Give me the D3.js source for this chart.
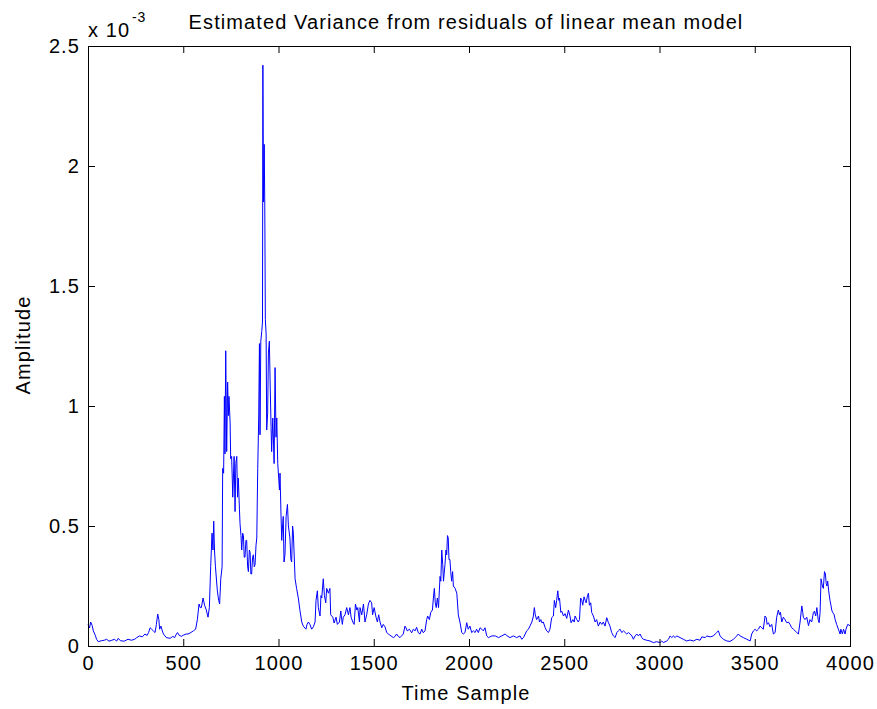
<!DOCTYPE html>
<html>
<head>
<meta charset="utf-8">
<script src="https://cdn.jsdelivr.net/npm/d3@7"></script>
<style>
  html, body { margin: 0; padding: 0; background: #ffffff; }
  svg { display: block; }
  text { font-family: "Liberation Sans", Arial, sans-serif; fill: #000; }
</style>
</head>
<body>
<script>
// ---------- DATA ----------
const chartTitle = "Estimated Variance from residuals of linear mean model";
const xLabel = "Time Sample";
const yLabel = "Amplitude";
const xTicks = [0, 500, 1000, 1500, 2000, 2500, 3000, 3500, 4000];
const yTicks = [0, 0.5, 1, 1.5, 2, 2.5];          // in units of 1e-3
const yTickLabels = ["0", "0.5", "1", "1.5", "2", "2.5"];
const yExponent = "-3";

// sample index (time sample)
const sampleIdx = [
0,8,14,22,28,38,45,54,70,85,98,110,125,140,150,159,170,190,210,228,245,256,270,285,299,310,318,326,334,343,352,359,366,372,376,383,390,396,411,431,445,455,464,470,478,490,500,515,525,540,553,565,574,583,589,595,604,612,621,630,637,644,651,656,660,664,669,679,686,691,697,704,707,712,716,719,723,728,733,737,740,746,749,754,760,767,772,776,781,785,789,795,798,803,807,812,816,820,824,829,833,838,842,847,851,855,859,864,868,873,877,882,886,891,896,900,903,907,912,916,918,921,925,928,931,935,938,943,947,952,956,961,964,970,977,982,987,991,996,1001,1005,1008,1013,1017,1022,1025,1029,1034,1040,1047,1052,1060,1065,1069,1074,1078,1087,1095,1104,1113,1122,1130,1144,1150,1157,1165,1174,1183,1192,1197,1204,1209,1218,1223,1227,1235,1241,1248,1253,1262,1270,1274,1285,1292,1302,1309,1320,1327,1335,1340,1349,1358,1367,1375,1381,1390,1397,1404,1411,1416,1425,1428,1437,1446,1454,1463,1472,1480,1489,1494,1502,1512,1519,1526,1533,1542,1550,1559,1568,1577,1585,1603,1612,1620,1629,1638,1655,1664,1670,1676,1687,1699,1708,1717,1725,1734,1743,1752,1760,1769,1778,1783,1792,1799,1808,1813,1818,1823,1828,1834,1840,1848,1852,1857,1862,1866,1874,1879,1883,1887,1891,1895,1900,1904,1909,1914,1918,1927,1936,1944,1953,1962,1970,1979,1988,1996,2005,2014,2023,2032,2040,2049,2058,2067,2075,2084,2093,2102,2120,2138,2155,2172,2190,2200,2215,2233,2250,2268,2277,2286,2295,2303,2312,2320,2330,2338,2343,2348,2355,2365,2370,2377,2382,2390,2400,2408,2417,2425,2434,2443,2448,2455,2460,2466,2471,2475,2482,2487,2496,2504,2513,2522,2530,2536,2545,2552,2557,2566,2574,2580,2586,2592,2597,2604,2610,2615,2622,2627,2632,2639,2644,2653,2662,2670,2679,2688,2697,2705,2714,2723,2732,2740,2749,2758,2767,2776,2784,2793,2802,2811,2820,2828,2837,2846,2855,2863,2872,2881,2889,2898,2907,2915,2933,2950,2968,2985,3003,3012,3020,3038,3047,3056,3064,3073,3082,3090,3108,3125,3143,3160,3178,3196,3213,3222,3240,3248,3266,3283,3292,3300,3309,3318,3335,3353,3370,3388,3406,3414,3423,3440,3458,3476,3484,3493,3502,3510,3519,3528,3537,3545,3554,3560,3565,3572,3580,3589,3598,3607,3615,3624,3630,3635,3642,3650,3659,3668,3677,3685,3694,3703,3712,3721,3729,3738,3747,3752,3755,3764,3773,3782,3790,3799,3808,3813,3820,3826,3833,3838,3843,3848,3855,3860,3866,3871,3875,3879,3883,3888,3895,3900,3904,3909,3917,3922,3930,3939,3948,3952,3960,3966,3974,3979,3988,4000
];

// estimated variance, in units of 1e-3
const amplitude = [
0.09,0.075,0.10,0.085,0.063,0.045,0.028,0.018,0.022,0.024,0.028,0.02,0.024,0.028,0.02,0.032,0.022,0.02,0.028,0.024,0.028,0.035,0.042,0.038,0.05,0.044,0.056,0.076,0.07,0.063,0.056,0.09,0.133,0.11,0.07,0.083,0.063,0.05,0.035,0.032,0.04,0.035,0.05,0.056,0.045,0.04,0.045,0.05,0.05,0.056,0.063,0.07,0.11,0.175,0.16,0.16,0.2,0.17,0.15,0.12,0.16,0.33,0.47,0.40,0.52,0.40,0.33,0.23,0.19,0.175,0.28,0.33,0.74,0.72,1.04,0.80,1.23,0.81,1.10,0.96,1.04,0.93,0.78,0.79,0.62,0.79,0.56,0.76,0.79,0.62,0.70,0.57,0.51,0.46,0.40,0.47,0.46,0.37,0.37,0.44,0.44,0.33,0.31,0.40,0.39,0.30,0.30,0.37,0.38,0.33,0.34,0.42,0.45,0.74,0.95,1.26,0.88,1.27,1.31,1.35,2.42,1.85,2.09,1.83,1.36,1.30,0.90,0.97,1.22,1.27,1.10,0.91,0.81,0.95,0.76,1.16,0.87,0.95,0.76,0.70,0.65,0.72,0.55,0.44,0.51,0.54,0.35,0.38,0.54,0.59,0.50,0.45,0.36,0.35,0.50,0.47,0.28,0.24,0.20,0.146,0.10,0.083,0.07,0.09,0.10,0.09,0.07,0.08,0.10,0.19,0.23,0.16,0.125,0.21,0.20,0.28,0.21,0.18,0.24,0.22,0.24,0.13,0.12,0.096,0.12,0.09,0.10,0.146,0.09,0.12,0.13,0.16,0.13,0.16,0.12,0.10,0.09,0.175,0.15,0.16,0.10,0.16,0.13,0.175,0.10,0.13,0.175,0.19,0.18,0.13,0.16,0.12,0.10,0.13,0.10,0.076,0.09,0.08,0.056,0.05,0.045,0.035,0.04,0.05,0.04,0.035,0.05,0.083,0.075,0.063,0.07,0.055,0.07,0.063,0.078,0.055,0.05,0.07,0.055,0.063,0.11,0.125,0.11,0.14,0.15,0.20,0.24,0.18,0.16,0.20,0.16,0.29,0.27,0.40,0.34,0.27,0.34,0.40,0.38,0.46,0.45,0.36,0.36,0.31,0.27,0.31,0.25,0.24,0.22,0.13,0.097,0.056,0.05,0.056,0.097,0.07,0.083,0.056,0.063,0.056,0.07,0.056,0.076,0.07,0.063,0.076,0.042,0.035,0.042,0.042,0.035,0.042,0.05,0.042,0.035,0.042,0.035,0.042,0.028,0.035,0.05,0.063,0.07,0.083,0.10,0.125,0.16,0.13,0.11,0.125,0.10,0.11,0.097,0.10,0.076,0.063,0.056,0.07,0.118,0.125,0.19,0.16,0.19,0.23,0.19,0.20,0.14,0.145,0.125,0.135,0.115,0.15,0.125,0.097,0.11,0.10,0.125,0.11,0.10,0.11,0.20,0.19,0.17,0.205,0.19,0.18,0.21,0.22,0.17,0.18,0.14,0.125,0.10,0.11,0.083,0.10,0.09,0.10,0.083,0.118,0.097,0.083,0.056,0.042,0.035,0.056,0.063,0.07,0.056,0.063,0.056,0.05,0.056,0.05,0.042,0.028,0.042,0.05,0.042,0.05,0.035,0.028,0.024,0.021,0.014,0.018,0.014,0.021,0.014,0.021,0.028,0.042,0.035,0.042,0.035,0.042,0.035,0.028,0.021,0.025,0.021,0.028,0.024,0.038,0.035,0.042,0.038,0.042,0.05,0.056,0.063,0.042,0.028,0.021,0.019,0.028,0.042,0.05,0.042,0.035,0.028,0.021,0.05,0.063,0.07,0.063,0.07,0.083,0.076,0.07,0.125,0.118,0.09,0.097,0.08,0.09,0.05,0.056,0.12,0.15,0.13,0.14,0.10,0.12,0.11,0.097,0.10,0.09,0.076,0.07,0.063,0.056,0.05,0.10,0.167,0.14,0.12,0.11,0.12,0.085,0.11,0.10,0.14,0.145,0.125,0.16,0.11,0.097,0.14,0.28,0.25,0.24,0.31,0.30,0.26,0.25,0.27,0.23,0.19,0.17,0.15,0.14,0.13,0.11,0.09,0.07,0.05,0.07,0.05,0.07,0.05,0.07,0.09,0.085
];

// ---------- CHART ----------
const W = 877, H = 709;
const plot = { left: 88, right: 850, top: 46, bottom: 646 };
const fontSize = 20, letterSp = 1.1, tickLen = 7;

const svg = d3.select("body").append("svg")
  .attr("width", W).attr("height", H);

svg.append("rect").attr("width", W).attr("height", H).attr("fill", "#fff");

const x = d3.scaleLinear().domain([0, 4000]).range([plot.left, plot.right]);
const y = d3.scaleLinear().domain([0, 2.5]).range([plot.bottom, plot.top]);

const data = sampleIdx.map((s, i) => ({ s, v: amplitude[i] }));

// data line
svg.append("path")
  .datum(data)
  .attr("fill", "none")
  .attr("stroke", "#0000ff")
  .attr("stroke-width", 1)
  .attr("stroke-linejoin", "miter")
  .attr("d", d3.line().x(d => x(d.s)).y(d => y(d.v)));

// axes
function styleAxis(g) {
  g.select(".domain").remove();
  g.selectAll(".tick line").attr("stroke", "#000").attr("stroke-width", 1);
  g.selectAll(".tick text")
    .attr("font-size", fontSize)
    .attr("letter-spacing", letterSp)
    .attr("font-family", "Liberation Sans, Arial, sans-serif")
    .attr("fill", "#000");
}

svg.append("g")
  .attr("transform", `translate(0,${plot.bottom})`)
  .call(d3.axisBottom(x).tickValues(xTicks).tickFormat(d3.format("d"))
        .tickSize(-tickLen).tickPadding(10))
  .call(styleAxis);

svg.append("g")
  .attr("transform", `translate(0,${plot.top})`)
  .call(d3.axisTop(x).tickValues(xTicks).tickFormat("").tickSize(-tickLen))
  .call(styleAxis);

svg.append("g")
  .attr("transform", `translate(${plot.left},0)`)
  .call(d3.axisLeft(y).tickValues(yTicks).tickFormat((d, i) => yTickLabels[i])
        .tickSize(-tickLen).tickPadding(8))
  .call(styleAxis);

svg.append("g")
  .attr("transform", `translate(${plot.right},0)`)
  .call(d3.axisRight(y).tickValues(yTicks).tickFormat("").tickSize(-tickLen))
  .call(styleAxis);

// frame
svg.append("rect")
  .attr("x", plot.left + 0.5).attr("y", plot.top + 0.5)
  .attr("width", plot.right - plot.left).attr("height", plot.bottom - plot.top)
  .attr("fill", "none").attr("stroke", "#000").attr("stroke-width", 1);

// title
svg.append("text")
  .attr("x", 466).attr("y", 29)
  .attr("text-anchor", "middle")
  .attr("font-size", fontSize).attr("letter-spacing", letterSp)
  .text(chartTitle);

// exponent label
svg.append("text")
  .attr("x", 88).attr("y", 37)
  .attr("font-size", fontSize).attr("letter-spacing", letterSp)
  .text("x 10");
svg.append("text")
  .attr("x", 132).attr("y", 22)
  .attr("font-size", 14).attr("letter-spacing", 0.8)
  .text(yExponent);

// axis labels
svg.append("text")
  .attr("x", 466).attr("y", 700)
  .attr("text-anchor", "middle")
  .attr("font-size", fontSize).attr("letter-spacing", letterSp)
  .text(xLabel);

svg.append("text")
  .attr("transform", "translate(30,345) rotate(-90)")
  .attr("text-anchor", "middle")
  .attr("font-size", fontSize).attr("letter-spacing", letterSp)
  .text(yLabel);
</script>
</body>
</html>
